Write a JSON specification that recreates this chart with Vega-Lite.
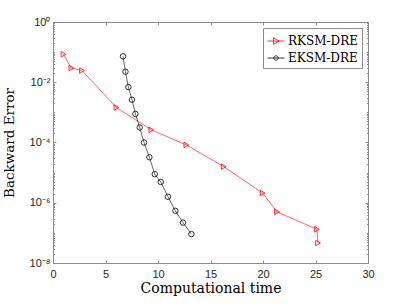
{
  "$schema": "https://vega.github.io/schema/vega-lite/v6.json",
  "width": 315,
  "height": 241,
  "autosize": {"type": "none"},
  "padding": {"left": 53, "top": 22, "right": 39, "bottom": 42},
  "background": "white",
  "config": {
    "view": {"stroke": "#8c8c8c", "strokeWidth": 1},
    "axis": {
      "grid": false,
      "labelFont": "Liberation Sans",
      "labelFontSize": 11,
      "labelColor": "#262626",
      "domainColor": "#8c8c8c",
      "tickColor": "#8c8c8c",
      "titleFont": "DejaVu Serif",
      "titleFontWeight": "normal",
      "titleFontSize": 14,
      "titleColor": "black",
      "labelOverlap": false,
      "labelFlush": false
    },
    "legend": {
      "orient": "top-right",
      "offset": 6,
      "padding": 4,
      "strokeColor": "#8c8c8c",
      "fillColor": "white",
      "labelFont": "DejaVu Serif",
      "labelFontSize": 12,
      "labelColor": "black",
      "symbolSize": 289,
      "symbolOpacity": 1,
      "symbolStrokeWidth": 0.8,
      "symbolFillColor": "transparent",
      "rowPadding": 2,
      "labelOffset": 3
    }
  },
  "data": {
    "values": [
      {"method": "RKSM-DRE", "i": 1, "t": 1.0, "err": 0.085},
      {"method": "RKSM-DRE", "i": 2, "t": 1.75, "err": 0.0295},
      {"method": "RKSM-DRE", "i": 3, "t": 2.76, "err": 0.0245},
      {"method": "RKSM-DRE", "i": 4, "t": 6.04, "err": 0.00145},
      {"method": "RKSM-DRE", "i": 5, "t": 9.37, "err": 0.000263},
      {"method": "RKSM-DRE", "i": 6, "t": 12.7, "err": 0.000083},
      {"method": "RKSM-DRE", "i": 7, "t": 16.26, "err": 0.0000158},
      {"method": "RKSM-DRE", "i": 8, "t": 19.97, "err": 0.00000209},
      {"method": "RKSM-DRE", "i": 9, "t": 21.33, "err": 0.0000005},
      {"method": "RKSM-DRE", "i": 10, "t": 25.14, "err": 0.000000132},
      {"method": "RKSM-DRE", "i": 11, "t": 25.24, "err": 0.000000046},
      {"method": "EKSM-DRE", "i": 1, "t": 6.67, "err": 0.0724},
      {"method": "EKSM-DRE", "i": 2, "t": 6.9, "err": 0.0224},
      {"method": "EKSM-DRE", "i": 3, "t": 7.18, "err": 0.0069},
      {"method": "EKSM-DRE", "i": 4, "t": 7.52, "err": 0.00263},
      {"method": "EKSM-DRE", "i": 5, "t": 7.85, "err": 0.00089},
      {"method": "EKSM-DRE", "i": 6, "t": 8.26, "err": 0.000316},
      {"method": "EKSM-DRE", "i": 7, "t": 8.67, "err": 0.0001},
      {"method": "EKSM-DRE", "i": 8, "t": 9.18, "err": 0.0000324},
      {"method": "EKSM-DRE", "i": 9, "t": 9.69, "err": 0.0000089},
      {"method": "EKSM-DRE", "i": 10, "t": 10.26, "err": 0.0000049},
      {"method": "EKSM-DRE", "i": 11, "t": 10.95, "err": 0.00000158},
      {"method": "EKSM-DRE", "i": 12, "t": 11.66, "err": 0.00000054},
      {"method": "EKSM-DRE", "i": 13, "t": 12.38, "err": 0.000000219},
      {"method": "EKSM-DRE", "i": 14, "t": 13.18, "err": 0.000000091}
    ]
  },
  "layer": [
    {
      "mark": {"type": "line", "strokeWidth": 0.6},
      "encoding": {
        "x": {
          "field": "t", "type": "quantitative",
          "scale": {"domain": [0, 30], "nice": false, "zero": false},
          "axis": {
            "title": "Computational time",
            "values": [0, 5, 10, 15, 20, 25, 30],
            "tickSize": -3,
            "labelPadding": 8,
            "titlePadding": 2
          }
        },
        "y": {
          "field": "err", "type": "quantitative",
          "scale": {"type": "log", "domain": [1e-8, 1], "nice": false},
          "axis": {
            "title": "Backward Error",
            "titleFontSize": 13.5,
            "values": [1e-8, 2e-8, 3e-8, 4e-8, 5e-8, 6e-8, 7e-8, 8e-8, 9e-8, 1e-7, 2e-7, 3e-7, 4e-7, 5e-7, 6e-7, 7e-7, 8e-7, 9e-7, 1e-6, 2e-6, 3e-6, 4e-6, 5e-6, 6e-6, 7e-6, 8e-6, 9e-6, 1e-5, 2e-5, 3e-5, 4e-5, 5e-5, 6e-5, 7e-5, 8e-5, 9e-5, 1e-4, 2e-4, 3e-4, 4e-4, 5e-4, 6e-4, 7e-4, 8e-4, 9e-4, 1e-3, 2e-3, 3e-3, 4e-3, 5e-3, 6e-3, 7e-3, 8e-3, 9e-3, 1e-2, 2e-2, 3e-2, 4e-2, 5e-2, 6e-2, 7e-2, 8e-2, 9e-2, 1e-1, 2e-1, 3e-1, 4e-1, 5e-1, 6e-1, 7e-1, 8e-1, 9e-1, 1],
            "labelExpr": "datum.value == 1 ? '10⁰' : datum.value == 1e-2 ? '10⁻²' : datum.value == 1e-4 ? '10⁻⁴' : datum.value == 1e-6 ? '10⁻⁶' : datum.value == 1e-8 ? '10⁻⁸' : ''",
            "tickSize": {"condition": {"test": "datum.value == 1 || datum.value == 1e-2 || datum.value == 1e-4 || datum.value == 1e-6 || datum.value == 1e-8", "value": -3}, "value": -1.5},
            "labelPadding": 6,
            "titlePadding": 13
          }
        },
        "color": {
          "field": "method", "type": "nominal",
          "scale": {"domain": ["RKSM-DRE", "EKSM-DRE"], "range": ["#ff0000", "#000000"]},
          "legend": null
        },
        "order": {"field": "i", "type": "quantitative"}
      }
    },
    {
      "mark": {"type": "point", "filled": false, "size": 30, "strokeWidth": 0.8, "opacity": 1},
      "encoding": {
        "x": {"field": "t", "type": "quantitative", "axis": null},
        "y": {"field": "err", "type": "quantitative", "scale": {"type": "log"}, "axis": null},
        "color": {
          "field": "method", "type": "nominal",
          "scale": {"domain": ["RKSM-DRE", "EKSM-DRE"], "range": ["#ff0000", "#000000"]},
          "legend": null
        },
        "shape": {
          "field": "method", "type": "nominal",
          "scale": {"domain": ["RKSM-DRE", "EKSM-DRE"], "range": ["triangle-right", "circle"]},
          "legend": null
        }
      }
    },
    {
      "mark": {"type": "point", "filled": false, "opacity": 0},
      "encoding": {
        "x": {
          "field": "t", "type": "quantitative",
          "axis": {"orient": "top", "values": [0, 5, 10, 15, 20, 25, 30], "labels": false, "title": null, "tickSize": -3}
        },
        "y": {
          "field": "err", "type": "quantitative", "scale": {"type": "log"},
          "axis": {
            "orient": "right", "labels": false, "title": null,
            "values": [1e-8, 2e-8, 3e-8, 4e-8, 5e-8, 6e-8, 7e-8, 8e-8, 9e-8, 1e-7, 2e-7, 3e-7, 4e-7, 5e-7, 6e-7, 7e-7, 8e-7, 9e-7, 1e-6, 2e-6, 3e-6, 4e-6, 5e-6, 6e-6, 7e-6, 8e-6, 9e-6, 1e-5, 2e-5, 3e-5, 4e-5, 5e-5, 6e-5, 7e-5, 8e-5, 9e-5, 1e-4, 2e-4, 3e-4, 4e-4, 5e-4, 6e-4, 7e-4, 8e-4, 9e-4, 1e-3, 2e-3, 3e-3, 4e-3, 5e-3, 6e-3, 7e-3, 8e-3, 9e-3, 1e-2, 2e-2, 3e-2, 4e-2, 5e-2, 6e-2, 7e-2, 8e-2, 9e-2, 1e-1, 2e-1, 3e-1, 4e-1, 5e-1, 6e-1, 7e-1, 8e-1, 9e-1, 1],
            "tickSize": {"condition": {"test": "datum.value == 1 || datum.value == 1e-2 || datum.value == 1e-4 || datum.value == 1e-6 || datum.value == 1e-8", "value": -3}, "value": -1.5}
          }
        },
        "color": {
          "field": "method", "type": "nominal",
          "scale": {"domain": ["RKSM-DRE", "EKSM-DRE"], "range": ["#ff0000", "#000000"]},
          "legend": {"title": null}
        },
        "shape": {
          "field": "method", "type": "nominal",
          "scale": {
            "domain": ["RKSM-DRE", "EKSM-DRE"],
            "range": [
              "M-1,0H1M-0.3,-0.38L0.38,0L-0.3,0.38Z",
              "M-1,0H1M0.26,0A0.26,0.26,0,1,1,-0.26,0A0.26,0.26,0,1,1,0.26,0Z"
            ]
          },
          "legend": {"title": null}
        }
      }
    }
  ],
  "resolve": {
    "scale": {"shape": "independent", "color": "independent"},
    "axis": {"x": "independent", "y": "independent"}
  }
}
